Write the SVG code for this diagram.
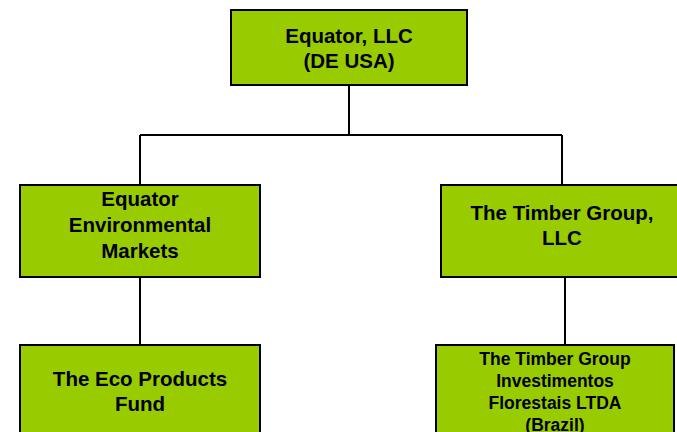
<svg xmlns="http://www.w3.org/2000/svg" width="677" height="432" viewBox="0 0 677 432">
<style>
.box{fill:#99CC00;stroke:#000;stroke-width:2}
.t{font-family:"Liberation Sans",Arial,sans-serif;font-weight:bold;font-size:20.5px;fill:#000;text-anchor:middle}
.s{font-size:17.5px}
.c{fill:none;stroke:#000;stroke-width:2}
</style>
<rect width="677" height="432" fill="#fff"/>
<g id="connectors">
<path class="c" d="M349 85V135M140 135H562M140 135V185M562 135V185"/>
<path class="c" d="M140 277V345"/>
<path class="c" d="M565 277V345"/>
</g>
<g id="equator-llc">
<rect class="box" x="231" y="10" width="236" height="75"/>
<text class="t" x="349" y="43">Equator, LLC</text>
<text class="t" x="349" y="68">(DE USA)</text>
</g>
<g id="equator-env">
<rect class="box" x="20" y="185" width="240" height="92"/>
<text class="t" x="140" y="206">Equator</text>
<text class="t" x="140" y="232">Environmental</text>
<text class="t" x="140" y="258">Markets</text>
</g>
<g id="timber-llc">
<rect class="box" x="441" y="185" width="242" height="92"/>
<text class="t" x="562" y="220">The Timber Group,</text>
<text class="t" x="562" y="245">LLC</text>
</g>
<g id="eco-fund">
<rect class="box" x="20" y="345" width="240" height="100"/>
<text class="t" x="140" y="386">The Eco Products</text>
<text class="t" x="140" y="411">Fund</text>
</g>
<g id="timber-brazil">
<rect class="box" x="436" y="345" width="238" height="100"/>
<text class="t s" x="555" y="365">The Timber Group</text>
<text class="t s" x="555" y="387">Investimentos</text>
<text class="t s" x="555" y="409">Florestais LTDA</text>
<text class="t s" x="555" y="431">(Brazil)</text>
</g>
</svg>
